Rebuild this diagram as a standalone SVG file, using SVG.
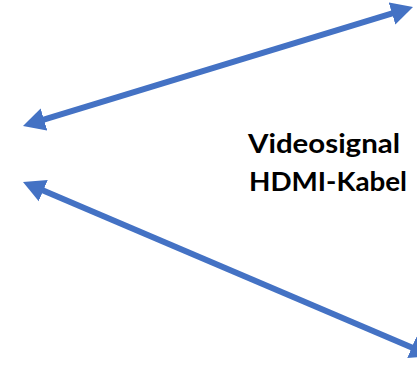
<svg xmlns="http://www.w3.org/2000/svg" width="417" height="368" viewBox="0 0 417 368">
  <style>
    .conn { stroke: #4472C4; stroke-width: 6; fill: none; marker-start: url(#head); marker-end: url(#head); }
    .lbl { font-family: Lato, "Open Sans", "Liberation Sans", sans-serif; font-weight: bold; font-size: 27px; fill: #000; }
  </style>
  <defs>
    <marker id="head" markerUnits="userSpaceOnUse" markerWidth="24" markerHeight="24" viewBox="0 -12 24 24" refX="2" refY="0" orient="auto-start-reverse">
      <path d="M0,-11.5 L22,0 L0,11.5 z" fill="#4472C4"/>
    </marker>
  </defs>
  <rect width="417" height="368" fill="#fff"/>
  <g id="connectors">
    <line class="conn" x1="42.1" y1="120.2" x2="393.9" y2="12.8"/>
    <line class="conn" x1="41.4" y1="189.8" x2="413.6" y2="348.2"/>
  </g>
  <g id="label">
    <text class="lbl" x="248" y="153" textLength="152" lengthAdjust="spacingAndGlyphs">Videosignal</text>
    <text class="lbl" x="249" y="191" textLength="158" lengthAdjust="spacingAndGlyphs">HDMI-Kabel</text>
  </g>
</svg>
